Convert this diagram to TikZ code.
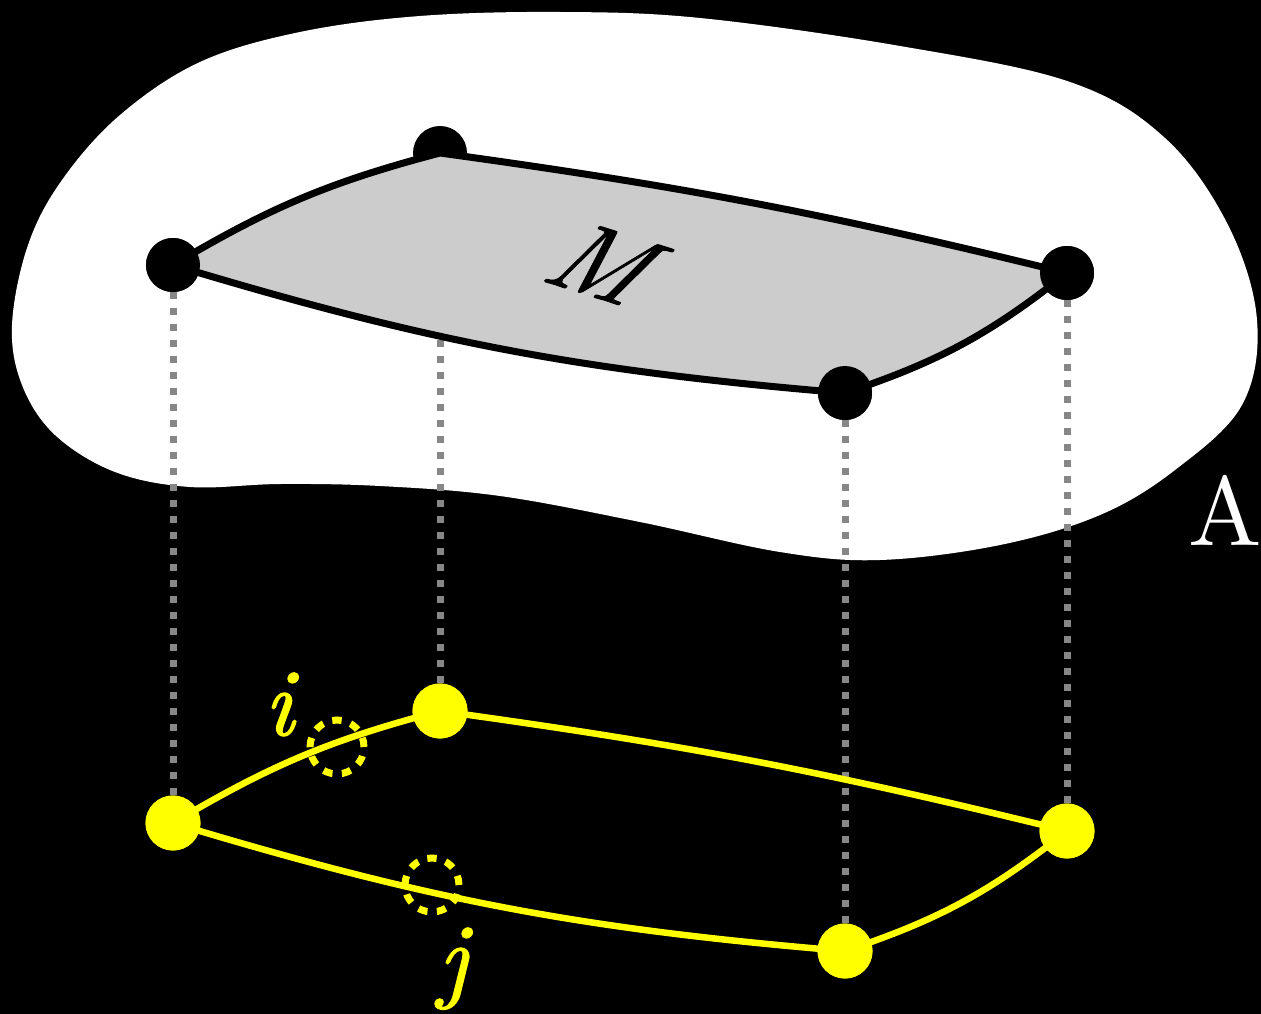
\documentclass[tikz,border=0pt]{standalone}
\usepackage{fontspec}
\setmainfont{lmroman10-regular.otf}[ItalicFont=lmroman10-italic.otf]
\newfontfamily\heavyit{lmroman10-italic.otf}[FakeBold=1.5]
\newfontfamily\midit{lmroman10-italic.otf}[FakeBold=0.8]
\definecolor{planegray}{gray}{0.8}
\definecolor{projgray}{gray}{0.53}
\definecolor{yel}{rgb}{1,1,0}
\begin{document}
\begin{tikzpicture}[x=1pt,y=-1pt,
  edgeline/.style={line width=7pt, line join=round},
  yedge/.style={line width=6.5pt, draw=yel, line join=round},
  bdot/.style={circle, fill=black, minimum size=54pt, inner sep=0pt},
  ydot/.style={circle, fill=yel, minimum size=55pt, inner sep=0pt},
  proj/.style={draw=projgray, line width=7pt, dash pattern=on 7pt off 9pt},
  ring/.style={circle, draw=yel, line width=7pt, dash pattern=on 9.4pt off 9.45pt, minimum size=54pt, inner sep=0pt},
  lbl/.style={font=\fontsize{98}{98}\selectfont, inner sep=0pt},
  ilbl/.style={font=\fontsize{95}{95}\selectfont\heavyit, inner sep=0pt}]
\fill[black] (0,0) rectangle (1261,1014);
\useasboundingbox (0,0) rectangle (1261,1014);
% blob
\fill[white] plot[smooth cycle, tension=0.6] coordinates {
  (12,325) (28,245) (62,180) (120,115) (200,62) (300,32) (420,16) (560,12)
  (700,18) (900,46) (1070,82) (1165,138) (1228,225) (1257,320) (1242,405)
  (1175,470) (1100,515) (1000,545) (880,560) (780,552) (640,522) (500,496)
  (380,486) (280,484) (190,487) (115,472) (55,435) (22,385)};
% corners
\coordinate (A) at (173,265);
\coordinate (B) at (440,153);
\coordinate (C) at (1067,273);
\coordinate (D) at (845,393);
\coordinate (A2) at (173,823);
\coordinate (B2) at (440,711);
\coordinate (C2) at (1067,831);
\coordinate (D2) at (845,951);
% back dot
\node[bdot] (dB) at (B) {};
\path (A2) node[ydot] (dA2) {} (B2) node[ydot] (dB2) {} (C2) node[ydot] (dC2) {} (D2) node[ydot] (dD2) {};
\node[bdot] (dA) at (A) {};
\node[bdot] (dC) at (C) {};
\node[bdot] (dD) at (D) {};
% projections
\draw[proj] (dA) -- (dA2);
\draw[proj] (dB) -- (dB2);
\draw[proj] (dC) -- (dC2);
\draw[proj] (dD) -- (dD2);
% plane
\filldraw[fill=planegray, edgeline] (A) to[bend left=8] (B) to[bend left=3] (C) to[bend left=10] (D) to[bend left=6] (A) -- cycle;
\node[bdot] at (A) {};
\node[bdot] at (C) {};
\node[bdot] at (D) {};
\node[inner sep=0pt, font=\fontsize{102}{102}\selectfont\midit, rotate=-17.5, xslant=0.28] (m) at (601,263) {M};
% yellow quad
\draw[yedge] (A2) to[bend left=8] (B2) to[bend left=3] (C2) to[bend left=10] (D2) to[bend left=6] (A2) -- cycle;
\node[ydot] at (A2) {};
\node[ydot] at (B2) {};
\node[ydot] at (C2) {};
\node[ydot] at (D2) {};
\node[ring] (ri) at (337,747) {};
\node[ring] (rj) at (432,885) {};
\node[ilbl, text=yel, anchor=base] (li) at (279,735) {i};
\node[ilbl, text=yel, anchor=base] (lj) at (453,990) {j};
\node[lbl, text=white, anchor=base west] (la) at (1188,545) {A};
\end{tikzpicture}
\end{document}
